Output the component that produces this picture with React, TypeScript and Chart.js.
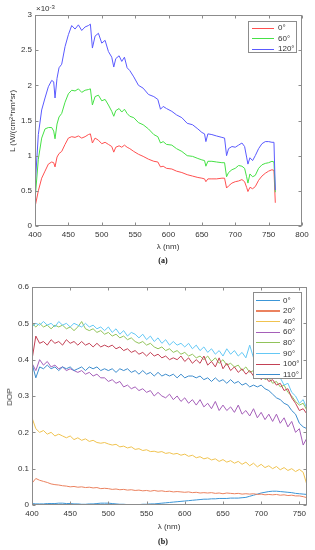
import React, { useEffect, useRef } from "react";
import { Chart, registerables } from "chart.js";

Chart.register(...registerables);

// ---------- Panel (a): radiance L (×10^-3 W/(cm²·nm·sr)) ----------
const wlA = [400, 405, 410, 415, 420, 425, 428, 430, 433, 436, 440, 445, 450, 455, 460, 465, 470, 475, 480, 483, 486, 490, 495, 500, 505, 510, 515, 518, 521, 526, 530, 534, 538, 542, 548, 555, 562, 570, 578, 584, 588, 592, 597, 605, 612, 620, 628, 636, 644, 650, 654, 656, 659, 665, 672, 680, 684, 687, 690, 695, 700, 705, 710, 714, 717, 719, 722, 726, 730, 735, 740, 745, 750, 755, 758, 760];
const radA120 = [0.54, 1.3, 1.65, 1.82, 1.98, 2.07, 2.05, 1.82, 2.1, 2.25, 2.3, 2.55, 2.72, 2.85, 2.8, 2.86, 2.78, 2.83, 2.85, 2.87, 2.53, 2.7, 2.74, 2.6, 2.64, 2.48, 2.4, 2.26, 2.38, 2.42, 2.34, 2.4, 2.25, 2.21, 2.12, 2.0, 1.96, 1.87, 1.84, 1.8, 1.66, 1.7, 1.67, 1.63, 1.58, 1.54, 1.46, 1.44, 1.38, 1.33, 1.31, 1.2, 1.31, 1.3, 1.28, 1.26, 1.25, 1.0, 1.1, 1.13, 1.12, 1.15, 1.18, 1.13, 0.98, 0.88, 0.97, 0.93, 1.0, 1.1, 1.17, 1.2, 1.2, 1.19, 1.19, 0.51];
const radA60 = [0.37, 0.95, 1.25, 1.38, 1.4, 1.4, 1.35, 1.24, 1.45, 1.55, 1.6, 1.76, 1.88, 1.93, 1.92, 1.95, 1.9, 1.93, 1.94, 1.95, 1.72, 1.84, 1.86, 1.78, 1.8, 1.72, 1.63, 1.56, 1.64, 1.67, 1.62, 1.66, 1.6, 1.56, 1.54, 1.47, 1.44, 1.38, 1.3, 1.27, 1.18, 1.2, 1.16, 1.15, 1.1, 1.06, 1.0, 0.99, 0.96, 0.94, 0.93, 0.85, 0.92, 0.92, 0.91, 0.9, 0.9, 0.7, 0.76, 0.8, 0.82, 0.86, 0.85, 0.82, 0.7, 0.61, 0.74, 0.7, 0.72, 0.82, 0.87, 0.89, 0.9, 0.92, 0.91, 0.48];
const radA0 = [0.27, 0.5, 0.68, 0.78, 0.88, 0.91, 0.9, 0.84, 0.98, 1.03, 1.06, 1.16, 1.25, 1.27, 1.26, 1.28, 1.25, 1.27, 1.3, 1.31, 1.18, 1.25, 1.22, 1.17, 1.19, 1.16, 1.13, 1.05, 1.12, 1.14, 1.12, 1.15, 1.12, 1.1, 1.06, 1.02, 0.99, 0.95, 0.92, 0.91, 0.84, 0.85, 0.82, 0.81, 0.78, 0.76, 0.73, 0.71, 0.69, 0.68, 0.67, 0.63, 0.67, 0.67, 0.67, 0.68, 0.68, 0.54, 0.57, 0.61, 0.63, 0.64, 0.66, 0.63, 0.55, 0.49, 0.55, 0.53, 0.56, 0.65, 0.71, 0.75, 0.78, 0.8, 0.79, 0.33];
const labelsA = ["0°", "60°", "120°"];
const colorsA = ["rgb(255,80,80)", "rgb(70,225,70)", "rgb(90,90,255)"];
const xTicksA = [400, 450, 500, 550, 600, 650, 700, 750, 800];
const yTicksA = [0, 0.5, 1, 1.5, 2, 2.5, 3];

// ---------- Panel (b): degree of polarization ----------
const wlB = [400, 405, 410, 415, 420, 425, 430, 435, 440, 445, 450, 455, 460, 465, 470, 475, 480, 485, 490, 495, 500, 505, 510, 515, 520, 525, 530, 535, 540, 545, 550, 555, 560, 565, 570, 575, 580, 585, 590, 595, 600, 605, 610, 615, 620, 625, 630, 635, 640, 645, 650, 655, 660, 665, 670, 675, 680, 685, 690, 695, 700, 705, 710, 715, 720, 725, 730, 735, 740, 745, 750, 755, 760];
const dop0 = [0.004, 0.003, 0.003, 0.003, 0.004, 0.004, 0.004, 0.005, 0.005, 0.004, 0.004, 0.003, 0.003, 0.002, 0.002, 0.003, 0.003, 0.004, 0.005, 0.005, 0.005, 0.004, 0.003, 0.002, 0.002, 0.001, 0.001, 0.001, 0.001, 0.002, 0.002, 0.003, 0.003, 0.004, 0.005, 0.006, 0.007, 0.008, 0.009, 0.01, 0.011, 0.012, 0.013, 0.014, 0.015, 0.016, 0.016, 0.017, 0.017, 0.018, 0.018, 0.018, 0.019, 0.019, 0.019, 0.02, 0.021, 0.024, 0.027, 0.03, 0.033, 0.035, 0.037, 0.038, 0.038, 0.037, 0.036, 0.035, 0.034, 0.032, 0.031, 0.03, 0.029];
const dop20 = [0.06, 0.073, 0.068, 0.065, 0.062, 0.058, 0.056, 0.055, 0.053, 0.052, 0.05, 0.051, 0.049, 0.05, 0.048, 0.049, 0.047, 0.048, 0.045, 0.046, 0.045, 0.043, 0.044, 0.042, 0.043, 0.041, 0.042, 0.04, 0.041, 0.039, 0.04, 0.038, 0.04, 0.038, 0.039, 0.037, 0.038, 0.036, 0.037, 0.036, 0.035, 0.036, 0.034, 0.035, 0.033, 0.034, 0.033, 0.034, 0.032, 0.033, 0.031, 0.033, 0.032, 0.031, 0.032, 0.03, 0.031, 0.03, 0.031, 0.029, 0.03, 0.028, 0.029, 0.028, 0.029, 0.027, 0.028, 0.026, 0.027, 0.025, 0.025, 0.023, 0.02];
const dop40 = [0.24, 0.21, 0.2, 0.205, 0.195, 0.2, 0.19, 0.195, 0.19, 0.185, 0.19, 0.18, 0.185, 0.178, 0.182, 0.175, 0.178, 0.172, 0.17, 0.172, 0.168, 0.165, 0.167, 0.16, 0.162, 0.157, 0.16, 0.153, 0.155, 0.15, 0.152, 0.147, 0.148, 0.145, 0.147, 0.142, 0.144, 0.14, 0.142, 0.137, 0.14, 0.134, 0.137, 0.13, 0.133, 0.127, 0.13, 0.124, 0.127, 0.12, 0.125, 0.118, 0.122, 0.115, 0.12, 0.112, 0.118, 0.108, 0.115, 0.105, 0.112, 0.103, 0.108, 0.1, 0.106, 0.097, 0.103, 0.095, 0.1, 0.092, 0.098, 0.09, 0.055];
const dop60 = [0.39, 0.37, 0.4, 0.385, 0.395, 0.38, 0.385, 0.375, 0.38, 0.37, 0.375, 0.37, 0.365, 0.37, 0.36, 0.365, 0.355, 0.36, 0.35, 0.35, 0.34, 0.345, 0.335, 0.34, 0.325, 0.33, 0.32, 0.325, 0.315, 0.32, 0.31, 0.315, 0.3, 0.31, 0.3, 0.295, 0.305, 0.29, 0.3, 0.285, 0.295, 0.28, 0.29, 0.275, 0.29, 0.27, 0.28, 0.265, 0.285, 0.26, 0.275, 0.26, 0.27, 0.255, 0.275, 0.25, 0.26, 0.245, 0.265, 0.24, 0.255, 0.235, 0.25, 0.23, 0.25, 0.225, 0.24, 0.215, 0.23, 0.2, 0.21, 0.165, 0.185];
const dop80 = [0.5, 0.49, 0.5, 0.49, 0.495, 0.485, 0.495, 0.49, 0.495, 0.485, 0.49, 0.48, 0.49, 0.505, 0.485, 0.48, 0.485, 0.475, 0.48, 0.47, 0.475, 0.465, 0.47, 0.46, 0.465, 0.455, 0.46, 0.45, 0.445, 0.45, 0.44, 0.445, 0.435, 0.43, 0.435, 0.425, 0.43, 0.42, 0.425, 0.415, 0.42, 0.41, 0.415, 0.405, 0.41, 0.4, 0.41, 0.395, 0.405, 0.39, 0.4, 0.385, 0.39, 0.38, 0.385, 0.37, 0.38, 0.365, 0.37, 0.355, 0.36, 0.345, 0.35, 0.335, 0.34, 0.325, 0.33, 0.31, 0.3, 0.285, 0.275, 0.28, 0.26];
const dop90 = [0.49, 0.5, 0.495, 0.505, 0.495, 0.5, 0.49, 0.505, 0.495, 0.5, 0.49, 0.5, 0.495, 0.49, 0.5, 0.49, 0.495, 0.485, 0.49, 0.48, 0.49, 0.475, 0.485, 0.47, 0.48, 0.465, 0.475, 0.47, 0.46, 0.47, 0.455, 0.465, 0.45, 0.46, 0.445, 0.455, 0.44, 0.45, 0.44, 0.445, 0.435, 0.445, 0.43, 0.44, 0.425, 0.435, 0.42, 0.43, 0.415, 0.425, 0.41, 0.43, 0.415, 0.425, 0.41, 0.42, 0.405, 0.44, 0.405, 0.41, 0.395, 0.4, 0.38, 0.385, 0.36, 0.35, 0.33, 0.335, 0.31, 0.3, 0.28, 0.29, 0.265];
const dop100 = [0.4, 0.465, 0.445, 0.45, 0.44, 0.455, 0.445, 0.45, 0.44, 0.455, 0.445, 0.45, 0.44, 0.45, 0.44, 0.445, 0.435, 0.445, 0.435, 0.44, 0.435, 0.44, 0.43, 0.435, 0.425, 0.43, 0.42, 0.425, 0.415, 0.42, 0.41, 0.42, 0.41, 0.415, 0.405, 0.41, 0.4, 0.405, 0.4, 0.41, 0.395, 0.405, 0.39, 0.4, 0.39, 0.41, 0.385, 0.395, 0.38, 0.405, 0.375, 0.39, 0.37, 0.38, 0.365, 0.375, 0.36, 0.37, 0.355, 0.36, 0.345, 0.355, 0.34, 0.345, 0.33, 0.335, 0.315, 0.32, 0.295, 0.28, 0.26, 0.265, 0.25];
const dop110 = [0.39, 0.35, 0.38, 0.375, 0.385, 0.375, 0.38, 0.37, 0.38, 0.375, 0.38, 0.37, 0.375, 0.38, 0.37, 0.38, 0.375, 0.38, 0.37, 0.375, 0.37, 0.375, 0.365, 0.375, 0.37, 0.375, 0.365, 0.37, 0.36, 0.37, 0.36, 0.365, 0.355, 0.365, 0.355, 0.36, 0.355, 0.36, 0.35, 0.36, 0.35, 0.355, 0.355, 0.35, 0.355, 0.345, 0.35, 0.34, 0.35, 0.34, 0.345, 0.335, 0.345, 0.335, 0.34, 0.33, 0.335, 0.325, 0.33, 0.325, 0.33, 0.32, 0.315, 0.305, 0.295, 0.29, 0.28, 0.275, 0.26, 0.25, 0.225, 0.215, 0.21];
const labelsB = ["0°", "20°", "40°", "60°", "80°", "90°", "100°", "110°"];
const colorsB = ["rgb(60,150,215)", "rgb(235,130,95)", "rgb(240,195,80)", "rgb(165,95,185)", "rgb(145,195,90)", "rgb(100,200,245)", "rgb(195,65,85)", "rgb(60,140,205)"];
const xTicksB = [400, 450, 500, 550, 600, 650, 700, 750];
const yTicksB = [0, 0.1, 0.2, 0.3, 0.4, 0.5, 0.6];

const FONT = "'Liberation Sans', Arial, sans-serif";
const TEXT = "#333333";
const AXIS = "#8c8c8c";

const boxPlugin = {
  id: "matlabBox",
  afterDraw(chart: any) {
    const { ctx, chartArea: a, scales } = chart;
    const L = Math.round(a.left) + 0.5;
    const R = Math.round(a.right) - 0.5;
    const T = Math.round(a.top) + 0.5;
    const B = Math.round(a.bottom) - 0.5;
    ctx.save();
    ctx.strokeStyle = AXIS;
    ctx.lineWidth = 1;
    ctx.strokeRect(L, T, R - L, B - T);
    const tl = 3;
    ctx.beginPath();
    scales.x.ticks.forEach((t: any) => {
      const x = Math.round(scales.x.getPixelForValue(t.value)) + 0.5;
      ctx.moveTo(x, B); ctx.lineTo(x, B - tl);
      ctx.moveTo(x, T); ctx.lineTo(x, T + tl);
    });
    scales.y.ticks.forEach((t: any) => {
      const y = Math.round(scales.y.getPixelForValue(t.value)) + 0.5;
      ctx.moveTo(L, y); ctx.lineTo(L + tl, y);
      ctx.moveTo(R, y); ctx.lineTo(R - tl, y);
    });
    ctx.stroke();
    ctx.restore();
  },
};

function makeChart(
  canvas: HTMLCanvasElement,
  cfg: {
    wl: number[]; series: number[][]; colors: string[]; labels: string[];
    xMax: number; yMax: number; xTicks: number[]; yTicks: number[];
    padTop: number; padRight: number; yWidth: number; xHeight: number;
  }
) {
  const datasets = cfg.series.map((s, i) => ({
    label: cfg.labels[i],
    data: s.map((v, j) => ({ x: cfg.wl[j], y: v })),
    borderColor: cfg.colors[i],
    backgroundColor: cfg.colors[i],
    borderWidth: 1,
    pointRadius: 0,
    tension: 0,
    fill: false,
    order: cfg.series.length - i,
  }));
  return new Chart(canvas, {
    type: "line",
    data: { datasets },
    options: {
      animation: false,
      responsive: false,
      maintainAspectRatio: false,
      events: [],
      layout: { padding: { top: cfg.padTop, right: cfg.padRight, left: 0, bottom: 0 } },
      plugins: { legend: { display: false }, tooltip: { enabled: false } },
      scales: {
        x: {
          type: "linear",
          min: 400,
          max: cfg.xMax,
          grid: { display: false, drawTicks: false },
          border: { display: false },
          afterBuildTicks: (s: any) => {
            s.ticks = cfg.xTicks.map((v) => ({ value: v }));
          },
          afterFit: (s: any) => { s.height = cfg.xHeight; },
          ticks: {
            padding: 4,
            autoSkip: false,
            maxRotation: 0,
            color: TEXT,
            font: { family: FONT, size: 8 },
            callback: (v: any) => String(v),
          },
        },
        y: {
          type: "linear",
          min: 0,
          max: cfg.yMax,
          grid: { display: false, drawTicks: false },
          border: { display: false },
          afterBuildTicks: (s: any) => {
            s.ticks = cfg.yTicks.map((v) => ({ value: v }));
          },
          afterFit: (s: any) => { s.width = cfg.yWidth; },
          ticks: {
            padding: 3,
            autoSkip: false,
            color: TEXT,
            font: { family: FONT, size: 8 },
            callback: (v: any) => String(Number(Number(v).toFixed(2))),
          },
        },
      },
    },
    plugins: [boxPlugin],
  } as any);
}

const txt: React.CSSProperties = {
  position: "absolute",
  fontFamily: FONT,
  fontSize: 8,
  color: TEXT,
  whiteSpace: "nowrap",
  lineHeight: "10px",
};

function Legend({ left, top, width, height, rowStart, rowGap, labels, colors, widths, lineX0, lineX1, textX }: any) {
  return (
    <div style={{ position: "absolute", left, top, width, height, background: "#fff", border: `1px solid ${AXIS}`, boxSizing: "border-box" }}>
      {labels.map((lab: string, i: number) => {
        const cy = rowStart + i * rowGap;
        const w = widths ? widths[i] : 1;
        return (
          <React.Fragment key={lab}>
            <div style={{ position: "absolute", left: lineX0, width: lineX1 - lineX0, top: cy - w / 2, height: w, background: colors[i] }} />
            <div style={{ ...txt, left: textX, top: cy - 5 }}>{lab}</div>
          </React.Fragment>
        );
      })}
    </div>
  );
}

export default function App() {
  const refA = useRef<HTMLCanvasElement>(null);
  const refB = useRef<HTMLCanvasElement>(null);

  useEffect(() => {
    const a = makeChart(refA.current!, {
      wl: wlA, series: [radA0, radA60, radA120], colors: colorsA, labels: labelsA,
      xMax: 800, yMax: 3, xTicks: xTicksA, yTicks: yTicksA,
      padTop: 15, padRight: 13, yWidth: 35, xHeight: 245 - 226,
    });
    const b = makeChart(refB.current!, {
      wl: wlB, series: [dop0, dop20, dop40, dop60, dop80, dop90, dop100, dop110], colors: colorsB, labels: labelsB,
      xMax: 760, yMax: 0.6, xTicks: xTicksB, yTicks: yTicksB,
      padTop: 17, padRight: 8, yWidth: 32, xHeight: 520 - 505,
    });
    return () => { a.destroy(); b.destroy(); };
  }, []);

  return (
    <div style={{ position: "absolute", left: 0, top: 0, width: 315, height: 550, background: "#fff", overflow: "hidden" }}>
      {/* Panel (a) */}
      <canvas ref={refA} width={315} height={245} style={{ position: "absolute", left: 0, top: 0, width: 315, height: 245 }} />
      <div style={{ ...txt, left: 36, top: 4, fontSize: 8 }}>
        ×10<sup style={{ fontSize: 6, verticalAlign: "top", position: "relative", top: -2 }}>-3</sup>
      </div>
      <div style={{ ...txt, left: 13, top: 121, transform: "translate(-50%,-50%) rotate(-90deg)" }}>
        L (W/(cm<sup style={{ fontSize: 6, verticalAlign: "top", position: "relative", top: -2 }}>2</sup>*nm*sr)
      </div>
      <div style={{ ...txt, left: 168, top: 247, transform: "translate(-50%,-50%)" }}>λ (nm)</div>
      <div style={{ ...txt, left: 163, top: 261, transform: "translate(-50%,-50%)", fontFamily: "'Liberation Serif', 'Times New Roman', serif", fontWeight: "bold", color: "#111" }}>(a)</div>
      <Legend left={248} top={21} width={49} height={32} rowStart={6} rowGap={10.5}
        labels={labelsA} colors={colorsA} lineX0={3} lineX1={25} textX={29} />

      {/* Panel (b) */}
      <canvas ref={refB} width={315} height={250} style={{ position: "absolute", left: 0, top: 270, width: 315, height: 250 }} />
      <div style={{ ...txt, left: 10, top: 397, transform: "translate(-50%,-50%) rotate(-90deg)" }}>DOP</div>
      <div style={{ ...txt, left: 169, top: 527, transform: "translate(-50%,-50%)" }}>λ (nm)</div>
      <div style={{ ...txt, left: 163, top: 542, transform: "translate(-50%,-50%)", fontFamily: "'Liberation Serif', 'Times New Roman', serif", fontWeight: "bold", color: "#111" }}>(b)</div>
      <Legend left={253} top={292} width={49} height={87} rowStart={7.5} rowGap={10.6}
        labels={labelsB} colors={colorsB} widths={[1, 2, 1, 1, 1, 1, 1, 1]} lineX0={2} lineX1={26} textX={29} />
    </div>
  );
}
